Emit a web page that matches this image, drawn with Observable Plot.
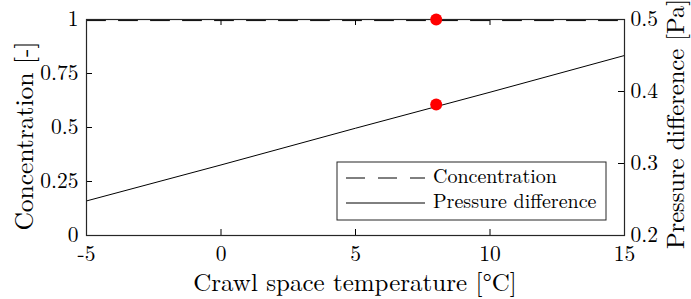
<!DOCTYPE html>
<html><head><meta charset="utf-8">
<script src="https://cdn.jsdelivr.net/npm/d3@7"></script>
<script src="https://cdn.jsdelivr.net/npm/@observablehq/plot@0.6"></script>
<style>
body{margin:0;background:#fff;}
svg, svg text, svg g { font-family: "Latin Modern Roman", "CMU Serif", "Liberation Serif", serif !important; }
</style></head>
<body><div id="chart"></div>
<script>
const temperature = [-5, 0, 5, 8, 10, 15];
const concentration = [0.995, 0.995, 0.995, 0.995, 0.995, 0.995];
const pressure = [0.248, 0.298, 0.349, 0.379, 0.399, 0.450];
const markerTemp = [8];
const markerConc = [1.0];
const markerPress = [0.382];
const xTicks = [-5, 0, 5, 10, 15];
const yTicks = [0, 0.25, 0.5, 0.75, 1];
const pTicks = [0.2, 0.3, 0.4, 0.5];
const pDomain = [0.2, 0.5];
const seriesNames = ["Concentration", "Pressure difference"];

const toLeft = p => (p - pDomain[0]) / (pDomain[1] - pDomain[0]);
const concData = temperature.map((t, i) => ({t, v: concentration[i]}));
const pressData = temperature.map((t, i) => ({t, v: toLeft(pressure[i])}));
const markers = [
  {t: markerTemp[0], v: markerConc[0]},
  {t: markerTemp[0], v: toLeft(markerPress[0])}
];

const FF = '"Latin Modern Roman", "CMU Serif", "Liberation Serif", serif';
const W = 691, H = 299, ML = 86, MR = 67, MT = 19, MB = 64;
const pw = W - ML - MR, ph = H - MT - MB, tl = 6;
const FS = 21.5;

const chart = Plot.plot({
  width: W, height: H,
  marginLeft: ML, marginRight: MR, marginTop: MT, marginBottom: MB,
  style: {fontSize: FS + "px", color: "#000", background: "#fff", fontFamily: FF},
  x: {domain: [-5, 15]},
  y: {domain: [0, 1]},
  marks: [
    Plot.axisX(xTicks, {anchor: "bottom", tickSize: 0, tickPadding: 10, label: null, tickFormat: d => String(d).replace("−", "-"), fontSize: FS}),
    Plot.axisY(yTicks, {anchor: "left", tickSize: 0, tickPadding: 8, label: null, tickFormat: d => String(d), fontSize: FS}),
    Plot.axisY(pTicks.map(toLeft), {anchor: "right", tickSize: 0, tickPadding: 6, label: null, tickFormat: (d, i) => String(pTicks[i]), fontSize: FS}),
    Plot.tickX(xTicks, {x: d => d, insetTop: ph - tl, stroke: "#000"}),
    Plot.tickX(xTicks, {x: d => d, insetBottom: ph - tl, stroke: "#000"}),
    Plot.tickY(yTicks, {y: d => d, insetRight: pw - tl, stroke: "#000"}),
    Plot.tickY(pTicks.map(toLeft), {y: d => d, insetLeft: pw - tl, stroke: "#000"}),
    Plot.line(concData, {x: "t", y: "v", stroke: "#000", strokeWidth: 1, strokeDasharray: "19,13"}),
    Plot.line(pressData, {x: "t", y: "v", stroke: "#000", strokeWidth: 1}),
    Plot.frame({stroke: "#262626", strokeWidth: 1.2}),
    Plot.dot(markers, {x: "t", y: "v", r: 6, fill: "#ff0000", stroke: "none"})
  ]
});
document.getElementById("chart").append(chart);

const svg = d3.select(chart);
svg.append("text").attr("x", ML + pw / 2).attr("y", 291).attr("text-anchor", "middle")
  .style("font-size", "25px").attr("fill", "#000").text("Crawl space temperature [°C]");
svg.append("text").attr("transform", `translate(33,136) rotate(-90)`).attr("text-anchor", "middle")
  .style("font-size", "25.5px").attr("fill", "#000").text("Concentration [-]");
svg.append("text").attr("transform", `translate(684,124) rotate(-90)`).attr("text-anchor", "middle")
  .style("font-size", "24.5px").attr("fill", "#000").text("Pressure difference [Pa]");

// legend
const lg = svg.append("g");
lg.append("rect").attr("x", 337).attr("y", 162).attr("width", 269).attr("height", 58)
  .attr("fill", "#fff").attr("stroke", "#262626").attr("stroke-width", 1);
const rows = [{y: 178, dash: "19,13"}, {y: 203, dash: null}];
rows.forEach((r, i) => {
  const l = lg.append("line").attr("x1", 346).attr("x2", 425).attr("y1", r.y).attr("y2", r.y)
    .attr("stroke", "#000").attr("stroke-width", 1);
  if (r.dash) l.attr("stroke-dasharray", r.dash);
  lg.append("text").attr("x", 433).attr("y", r.y + 5).attr("text-anchor", "start")
    .style("font-size", "20px").attr("fill", "#000").text(seriesNames[i]);
});
svg.selectAll("text").attr("font-family", FF).style("font-family", FF);
</script></body></html>
